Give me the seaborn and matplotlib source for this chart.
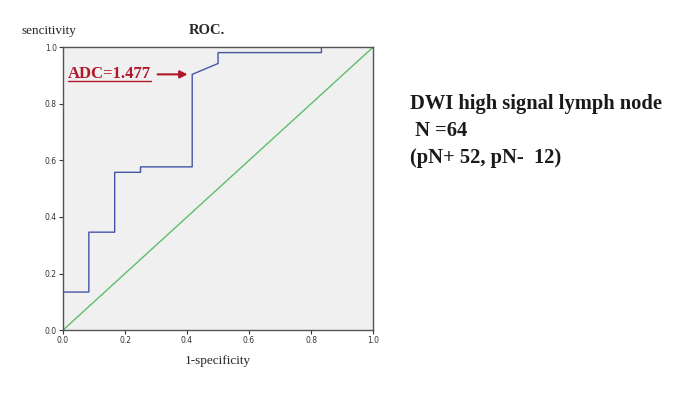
import numpy as np
import pandas as pd
import matplotlib
matplotlib.use('Agg')
import matplotlib.pyplot as plt
import seaborn as sns

# ROC curve points (1-specificity, sensitivity), pN- 12, pN+ 52
fpr = [0.0, 0.0, 1/12, 1/12, 2/12, 2/12, 3/12, 3/12, 5/12, 5/12, 6/12, 6/12, 10/12, 10/12, 1.0]
tpr = [0.0, 7/52, 7/52, 18/52, 18/52, 29/52, 29/52, 30/52, 30/52, 47/52, 49/52, 51/52, 51/52, 1.0, 1.0]
ref_line = [0.0, 1.0]
ticks = [0.0, 0.2, 0.4, 0.6, 0.8, 1.0]
cutoff_label = "ADC=1.477"
cutoff_point = (5/12, 47/52)
info_lines = ["DWI high signal lymph node", " N =64", "(pN+ 52, pN-  12)"]

sns.set_style("white")
serif = ['Liberation Serif', 'DejaVu Serif']
red = '#b0182a'

fig = plt.figure(figsize=(7, 3.93), dpi=100)
ax = fig.add_axes([0.09, 0.16, 0.443, 0.72])
ax.set_facecolor('#f0f0f0')

roc = pd.DataFrame({'fpr': fpr, 'tpr': tpr})
sns.lineplot(data=roc, x='fpr', y='tpr', sort=False, estimator=None,
             color='#4455a8', linewidth=1.0, ax=ax)
sns.lineplot(x=ref_line, y=ref_line, color='#5cbf6a', linewidth=1.0, ax=ax)

ax.set_xlim(0, 1)
ax.set_ylim(0, 1)
ax.set_xticks(ticks)
ax.set_yticks(ticks)
ax.set_xticklabels([f"{t:.1f}" for t in ticks])
ax.set_yticklabels([f"{t:.1f}" for t in ticks])
ax.tick_params(axis='both', labelsize=5.5, length=3, width=0.8, direction='out',
               colors='#333333', bottom=True, left=True, pad=1.5)
for s in ax.spines.values():
    s.set_color('#555555')
    s.set_linewidth(1.0)

ax.set_xlabel("1-specificity", family=serif, fontsize=9.5, labelpad=7)
ax.set_ylabel("")
fig.text(0.031, 0.905, "sencitivity", family=serif, fontsize=9.5, va='bottom')
fig.text(0.27, 0.905, "ROC.", family=serif, fontsize=10.5, fontweight='bold', va='bottom')

# cutoff label with underline and arrow
txt = ax.text(0.015, 0.905, cutoff_label, color=red, family=serif, fontsize=12,
              fontweight='bold', va='center', ha='left')
ax.annotate("", xy=(cutoff_point[0] - 0.015, cutoff_point[1]), xytext=(0.305, cutoff_point[1]),
            arrowprops=dict(arrowstyle='-|>', color=red, lw=1.5,
                            shrinkA=0, shrinkB=0, mutation_scale=11))
fig.canvas.draw()
bb = txt.get_window_extent().transformed(ax.transData.inverted())
ax.plot([bb.x0, bb.x1], [bb.y0 + 0.004, bb.y0 + 0.004], color=red, lw=1.0)

y0 = 0.735
for i, line in enumerate(info_lines):
    fig.text(0.585, y0 - i * 0.068, line, family=serif, fontsize=14.8,
             fontweight='bold', color='#1a1a1a', va='center')

fig.savefig('out.png', dpi=100)
